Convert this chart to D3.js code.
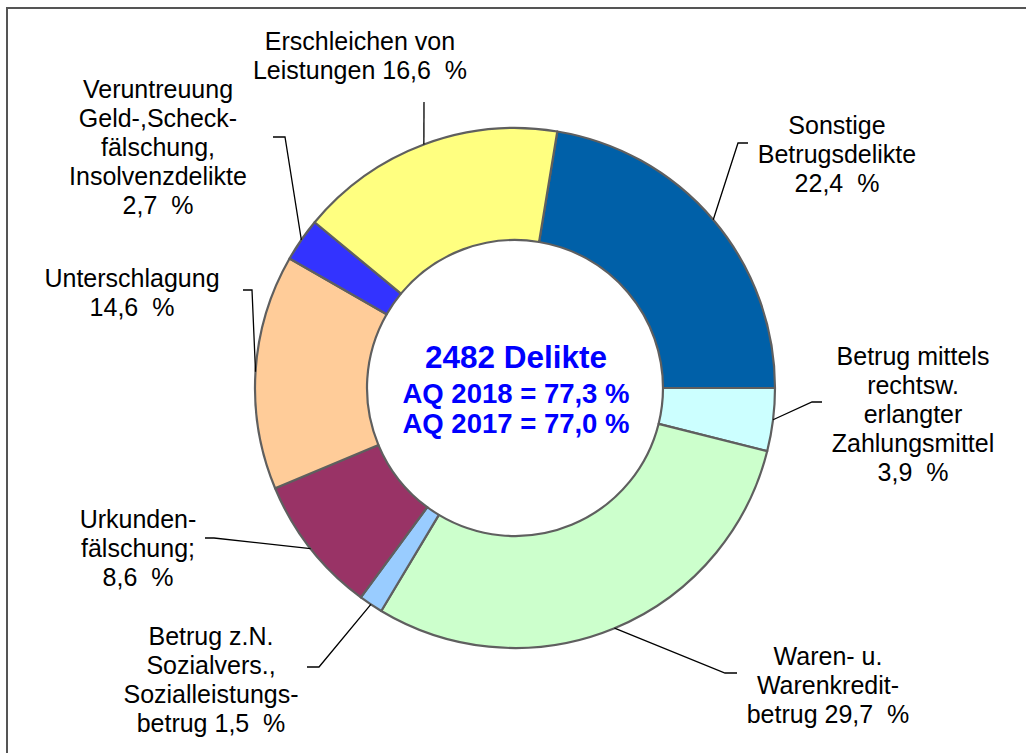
<!DOCTYPE html>
<meta charset="utf-8">
<script src="https://d3js.org/d3.v7.min.js"></script>
<style>
body { margin: 0; background: #fff; }
text { font-family: Arial, "Liberation Sans", sans-serif; }
</style>
<div id="chart"></div>
<script>

// slices, clockwise, first one ends at 3 o'clock
const categories = ["Sonstige Betrugsdelikte", "Betrug mittels rechtsw. erlangter Zahlungsmittel",
  "Waren- u. Warenkreditbetrug", "Betrug z.N. Sozialvers., Sozialleistungsbetrug",
  "Urkundenfälschung", "Unterschlagung", "Veruntreuung Geld-,Scheckfälschung, Insolvenzdelikte",
  "Erschleichen von Leistungen"];
const shares = [22.4, 3.9, 29.7, 1.5, 8.6, 14.6, 2.7, 16.6];
const colors = ["#0060a8", "#ccffff", "#ccffcc", "#99ccff", "#993366", "#ffcc99", "#3333ff", "#ffff80"];
const labelLines = [
  ["Sonstige", "Betrugsdelikte", "{v}"],
  ["Betrug mittels", "rechtsw.", "erlangter", "Zahlungsmittel", "{v}"],
  ["Waren- u.", "Warenkredit-", "betrug {v}"],
  ["Betrug z.N.", "Sozialvers.,", "Sozialleistungs-", "betrug {v}"],
  ["Urkunden-", "fälschung;", "{v}"],
  ["Unterschlagung", "{v}"],
  ["Veruntreuung", "Geld-,Scheck-", "fälschung,", "Insolvenzdelikte", "{v}"],
  ["Erschleichen von", "Leistungen {v}"]
];
const centerLines = ["2482 Delikte", "AQ 2018 = 77,3 %", "AQ 2017 = 77,0 %"];

// label layout: text centre x, first baseline y, leader start and elbow
const labelPos = [
  {x: 837, y: 134, p0: [748, 143], p1: [738, 143]},
  {x: 913, y: 365, p0: [822, 402], p1: [812, 402]},
  {x: 828, y: 665, p0: [737, 673], p1: [725, 673]},
  {x: 211, y: 645, p0: [307, 667], p1: [319, 667]},
  {x: 138, y: 528, p0: [205, 538], p1: [214, 538]},
  {x: 132, y: 287, p0: [243, 290], p1: [252, 290]},
  {x: 158, y: 98,  p0: [273, 137], p1: [285, 137]},
  {x: 360, y: 50,  p0: [424, 102], p1: [424, 102]}
];

const width = 1026, height = 753;
const cx = 515, cy = 388, rOuter = 260, rInner = 148;
const lineH = 29;

const svg = d3.select("#chart").append("svg")
    .attr("width", width)
    .attr("height", height);

// frame (only top and left edges are visible)
svg.append("rect")
    .attr("x", 7).attr("y", 8)
    .attr("width", 1100).attr("height", 900)
    .attr("fill", "none")
    .attr("stroke", "#555")
    .attr("stroke-width", 2);

const data = categories.map((c, i) => ({name: c, value: shares[i], color: colors[i], lines: labelLines[i], pos: labelPos[i]}));

const offset = Math.PI / 2 - shares[0] / d3.sum(shares) * 2 * Math.PI;
const pie = d3.pie()
    .value(d => d.value)
    .sort(null)
    .startAngle(offset)
    .endAngle(offset + 2 * Math.PI);

const arcs = pie(data);
const arc = d3.arc().innerRadius(rInner).outerRadius(rOuter);
const edgeArc = d3.arc().innerRadius(rOuter).outerRadius(rOuter);

const g = svg.append("g").attr("transform", `translate(${cx},${cy})`);

g.selectAll("path.slice")
  .data(arcs)
  .join("path")
    .attr("class", "slice")
    .attr("d", arc)
    .attr("fill", d => d.data.color)
    .attr("stroke", "#5f5f5f")
    .attr("stroke-width", 2.2)
    .attr("stroke-linejoin", "round");

// leader lines
svg.selectAll("polyline.leader")
  .data(arcs)
  .join("polyline")
    .attr("class", "leader")
    .attr("points", d => {
      const c = edgeArc.centroid(d);
      return [d.data.pos.p0, d.data.pos.p1, [cx + c[0], cy + c[1]]].map(p => p.join(",")).join(" ");
    })
    .attr("fill", "none")
    .attr("stroke", "#000")
    .attr("stroke-width", 1.3);

const fmt = v => d3.format(".1f")(v).replace(".", ",") + "  %";

const labels = svg.selectAll("text.lbl")
  .data(data)
  .join("text")
    .attr("class", "lbl")
    .attr("text-anchor", "middle")
    .attr("font-size", 25)
    .attr("fill", "#000")
    .style("white-space", "pre");

labels.selectAll("tspan")
  .data(d => d.lines.map((l, i) => ({t: l.replace("{v}", fmt(d.value)), x: d.pos.x, y: d.pos.y + i * lineH})))
  .join("tspan")
    .attr("x", d => d.x)
    .attr("y", d => d.y)
    .text(d => d.t);

// centre text
svg.append("g").selectAll("text")
  .data(centerLines)
  .join("text")
    .attr("x", cx + 1)
    .attr("y", (d, i) => [368, 403, 433][i])
    .attr("text-anchor", "middle")
    .attr("font-weight", "bold")
    .attr("font-size", (d, i) => i === 0 ? 31.5 : 27.5)
    .attr("fill", "#0000ff")
    .text(d => d);

</script>
